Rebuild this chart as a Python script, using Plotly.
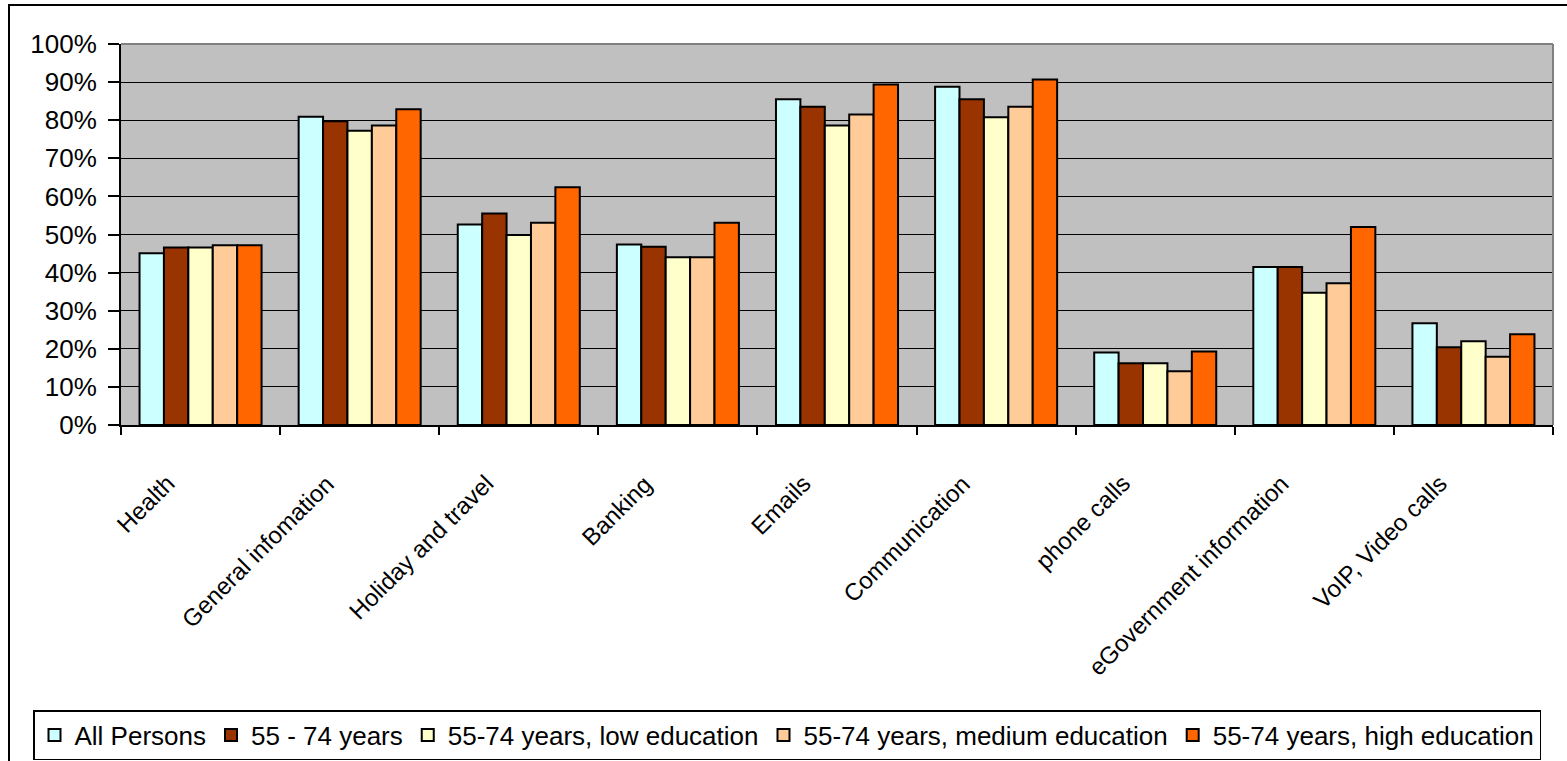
import plotly.graph_objects as go

# Internet activities among older people, share of internet users (%)
categories = [
    "Health", "General infomation", "Holiday and travel", "Banking", "Emails",
    "Communication", "phone calls", "eGovernment information", "VoIP, Video calls",
]

all_persons = [45.1, 80.9, 52.6, 47.4, 85.5, 88.8, 19.0, 41.5, 26.7]
age_55_74 = [46.6, 79.7, 55.5, 46.8, 83.5, 85.5, 16.2, 41.5, 20.4]
low_edu = [46.6, 77.2, 49.9, 44.0, 78.6, 80.8, 16.2, 34.7, 22.0]
medium_edu = [47.2, 78.6, 53.1, 44.0, 81.5, 83.5, 14.1, 37.2, 17.9]
high_edu = [47.2, 82.9, 62.4, 53.1, 89.4, 90.7, 19.3, 52.0, 23.8]

series_names = [
    "All Persons",
    "55 - 74 years",
    "55-74 years, low education",
    "55-74 years, medium education",
    "55-74 years, high education",
]
series_values = [all_persons, age_55_74, low_edu, medium_edu, high_edu]
series_colors = ["#CCFFFF", "#993300", "#FFFFCC", "#FFCC99", "#FF6600"]

W, H = 1567, 761
ML, MR, MT, MB = 121, 14, 44, 336
PW, PH = W - ML - MR, H - MT - MB


def px_x(px):
    return (px - ML) / PW


def px_y(py):
    return (H - MB - py) / PH


FONT = "Liberation Sans, Arial, sans-serif"

fig = go.Figure()
for name, vals, col in zip(series_names, series_values, series_colors):
    fig.add_trace(go.Bar(
        name=name,
        x=categories,
        y=[v / 100 for v in vals],
        marker=dict(color=col, line=dict(color="black", width=2)),
    ))

annotations = [
    dict(
        x=c, y=0, xref="x", yref="y",
        text=c, textangle=-45, showarrow=False,
        xanchor="right", yanchor="top",
        xshift=-18, yshift=-42,
        font=dict(family=FONT, size=24, color="black"),
    )
    for c in categories
]

shapes = [
    # outer frame (top and left edges)
    dict(type="line", xref="paper", yref="paper",
         x0=px_x(9), x1=px_x(9), y0=px_y(5), y1=px_y(H + 5),
         line=dict(color="black", width=2)),
    dict(type="line", xref="paper", yref="paper",
         x0=px_x(8), x1=px_x(W + 5), y0=px_y(5), y1=px_y(5),
         line=dict(color="black", width=2)),
    # plot area border, top and right
    dict(type="line", xref="paper", yref="paper",
         x0=0, x1=1, y0=1, y1=1, line=dict(color="#808080", width=2)),
    dict(type="line", xref="paper", yref="paper",
         x0=1, x1=1, y0=0, y1=1, line=dict(color="#808080", width=2)),
]

fig.update_layout(
    width=W, height=H,
    margin=dict(l=ML, r=MR, t=MT, b=MB, autoexpand=False),
    paper_bgcolor="white",
    plot_bgcolor="#C0C0C0",
    barmode="group",
    bargap=0.233,
    bargroupgap=0,
    font=dict(family=FONT, color="black"),
    showlegend=True,
    legend=dict(
        orientation="h",
        x=px_x(33), xanchor="left",
        y=px_y(710), yanchor="top",
        bordercolor="black", borderwidth=1.5,
        bgcolor="white",
        font=dict(family=FONT, size=26, color="black"),
        traceorder="normal",
    ),
    annotations=annotations,
    shapes=shapes,
)

fig.update_xaxes(
    type="category",
    range=[-0.5, len(categories) - 0.5],
    showticklabels=False,
    tickson="boundaries",
    ticks="outside", ticklen=8, tickwidth=2, tickcolor="black",
    showline=True, linecolor="black", linewidth=2,
    showgrid=False,
)

fig.update_yaxes(
    range=[0, 1],
    dtick=0.1,
    tickformat=".0%",
    ticks="outside", ticklen=11, tickwidth=2, tickcolor="black",
    ticklabelstandoff=6,
    tickfont=dict(family=FONT, size=26, color="black"),
    showline=True, linecolor="black", linewidth=2,
    showgrid=True, gridcolor="black", gridwidth=1,
    zeroline=False,
)

fig.write_html("out.html")
